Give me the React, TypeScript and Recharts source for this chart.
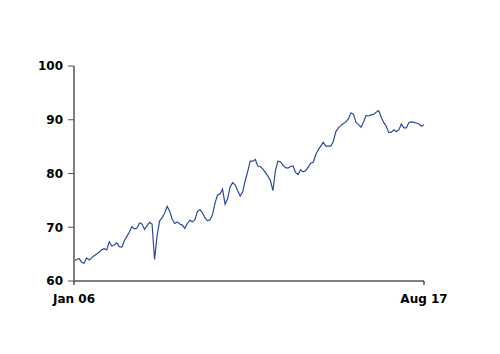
import React from "react";
import { LineChart, Line, XAxis, YAxis } from "recharts";

const values: number[] = [
  63.8, 64.0, 64.2, 63.5, 63.3, 64.3, 63.9, 64.3, 64.7, 65.0,
  65.4, 65.8, 66.0, 65.8, 67.3, 66.5, 66.7, 67.1, 66.4, 66.3,
  67.5, 68.3, 69.1, 70.1, 69.7, 69.8, 70.8, 70.6, 69.6, 70.3,
  70.9, 70.6, 64.0, 68.4, 71.2, 71.8, 72.6, 73.9, 73.0, 71.5,
  70.7, 71.0, 70.6, 70.4, 69.8, 70.7, 71.3, 71.0, 71.4, 72.9,
  73.3, 72.7, 71.8, 71.2, 71.4, 72.3, 74.5, 76.0, 76.2, 77.1,
  74.3, 75.3, 77.5, 78.3, 77.9, 76.8, 75.8, 76.6, 78.7, 80.4,
  82.3, 82.3, 82.6, 81.4, 81.3, 80.8, 80.2, 79.5, 78.7, 76.8,
  80.6, 82.3, 82.2, 81.5, 81.1, 81.0, 81.3, 81.4, 80.2, 79.8,
  80.7, 80.3, 80.5, 81.2, 81.9, 82.1, 83.5, 84.4, 85.1, 85.8,
  85.1, 85.1, 85.1, 86.0, 87.8, 88.5, 88.9, 89.3, 89.6, 90.2,
  91.3, 91.0, 89.5, 89.1, 88.6, 89.6, 90.8, 90.7, 90.9, 91.0,
  91.4, 91.7, 90.5, 89.5, 88.8, 87.6, 87.7, 88.1, 87.8, 88.1,
  89.2, 88.5, 88.5, 89.5, 89.6, 89.5, 89.4, 89.2, 88.8, 89.1,
];

const xTickLabels: string[] = ["Jan 06", "Aug 17"];
const yTicks: number[] = [60, 70, 80, 90, 100];

const data = values.map((v, i) => ({ idx: i, value: v }));
const lastIdx = values.length - 1;
const xTicks = [0, lastIdx];

const fontStyle = {
  fontFamily: "'DejaVu Sans', Verdana, sans-serif",
  fontSize: 12,
  fontWeight: "bold" as const,
  fill: "#000",
};

export default function App() {
  return (
    <div style={{ margin: -8, width: 500, height: 354, background: "#fff" }}>
      <LineChart
        width={500}
        height={354}
        data={data}
        margin={{ top: 66, right: 76, left: 0, bottom: 0 }}
      >
        <XAxis
          dataKey="idx"
          type="number"
          domain={[0, lastIdx]}
          ticks={xTicks}
          tickFormatter={(v: number) => (v === 0 ? xTickLabels[0] : xTickLabels[1])}
          height={73}
          tickSize={4}
          tickMargin={9}
          axisLine={{ stroke: "#000", strokeWidth: 1 }}
          tickLine={{ stroke: "#000" }}
          tick={fontStyle}
          interval={0}
        />
        <YAxis
          domain={[60, 100]}
          ticks={yTicks}
          width={74}
          tickSize={6}
          tickMargin={5}
          axisLine={{ stroke: "#808080", strokeWidth: 2 }}
          tickLine={{ stroke: "#555" }}
          tick={fontStyle}
          interval={0}
        />
        <Line
          type="linear"
          dataKey="value"
          stroke="#2b4a9b"
          strokeWidth={1.2}
          dot={false}
          isAnimationActive={false}
        />
      </LineChart>
    </div>
  );
}
